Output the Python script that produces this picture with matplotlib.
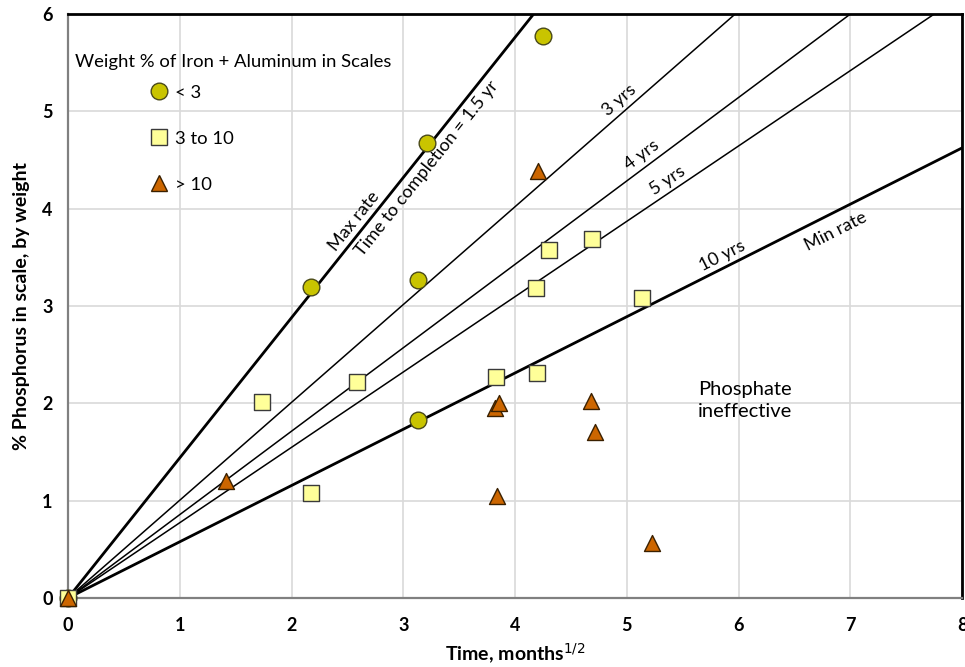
import numpy as np
import matplotlib
matplotlib.use("Agg")
import matplotlib.pyplot as plt
from matplotlib.lines import Line2D

plt.rcParams['font.family'] = ['Lato', 'DejaVu Sans']

# scale samples, x = sqrt(months), y = % P by weight
low_x = [0.0, 2.17, 3.13, 3.21, 4.25, 3.13]
low_y = [0.0, 3.20, 3.27, 4.67, 5.77, 1.83]

mid_x = [0.0, 1.74, 2.17, 2.59, 3.83, 4.20, 4.19, 4.30, 4.69, 5.14]
mid_y = [0.0, 2.01, 1.08, 2.22, 2.27, 2.31, 3.18, 3.58, 3.69, 3.08]

high_x = [0.0, 1.41, 3.82, 3.86, 3.84, 4.21, 4.68, 4.72, 5.23]
high_y = [0.0, 1.20, 1.95, 2.00, 1.05, 4.39, 2.02, 1.71, 0.57]

legend_labels = ['< 3', '3 to 10', '> 10']

# rate lines through the origin (slope in % per month^1/2)
line_names = ['max', '3 yrs', '4 yrs', '5 yrs', 'min']
line_slopes = [1.44, 1.005, 0.857, 0.774, 0.578]
line_widths = [2.0, 1.1, 1.1, 1.1, 2.0]

fig = plt.figure(figsize=(9.65, 6.67), dpi=100)
ax = fig.add_axes([0.0705, 0.1034, 0.9264, 0.8756])
ax.set_xlim(0, 8)
ax.set_ylim(0, 6)

xx = np.array([0, 8])
for slope, lw in zip(line_slopes, line_widths):
    ax.plot(xx, slope * xx, color='black', lw=lw, zorder=2)

ax.scatter(low_x, low_y, marker='o', s=12**2, c='#C9C400', edgecolors='#4a4a1a',
           linewidths=1, zorder=4, clip_on=False)
ax.scatter(mid_x, mid_y, marker='s', s=11**2, c='#FFFF99', edgecolors='#3a3a3a',
           linewidths=1, zorder=5, clip_on=False)
ax.scatter(high_x, high_y, marker='^', s=11.5**2, c='#CC6600', edgecolors='#3a2000',
           linewidths=1, zorder=6, clip_on=False)


# line labels, rotated along the lines and pushed off them a little
def line_label(text, slope, x, above=True, size=13, gap=2.5):
    p0 = ax.transData.transform((0, 0))
    p1 = ax.transData.transform((1, slope))
    ang = np.arctan2(p1[1] - p0[1], p1[0] - p0[0])
    sgn = 1 if above else -1
    off = (-np.sin(ang) * gap * sgn, np.cos(ang) * gap * sgn)
    ax.annotate(text, (x, slope * x), xytext=off, textcoords='offset points',
                rotation=np.degrees(ang), rotation_mode='anchor',
                ha='center', va='bottom' if above else 'top', fontsize=size)


line_label('Max rate', line_slopes[0], 2.64)
line_label('Time to completion = 1.5 yr', line_slopes[0], 3.12, above=False, gap=3.5)
line_label('3 yrs', line_slopes[1], 5.0)
line_label('4 yrs', line_slopes[2], 5.2)
line_label('5 yrs', line_slopes[3], 5.42)
line_label('10 yrs', line_slopes[4], 5.9)
line_label('Min rate', line_slopes[4], 6.8, above=False, gap=7)

ax.text(5.64, 2.03, 'Phosphate\nineffective', ha='left', va='center',
        fontsize=14.5, linespacing=1.35)

# legend
ax.text(0.008, 0.918, 'Weight % of Iron + Aluminum in Scales', transform=ax.transAxes,
        ha='left', va='center', fontsize=13.3)
handles = [
    Line2D([], [], ls='none', marker='o', ms=12, mfc='#C9C400', mec='#4a4a1a'),
    Line2D([], [], ls='none', marker='s', ms=11, mfc='#FFFF99', mec='#3a3a3a'),
    Line2D([], [], ls='none', marker='^', ms=11.5, mfc='#CC6600', mec='#3a2000'),
]
ax.legend(handles, legend_labels, loc='upper left', bbox_to_anchor=(0.092, 0.879),
          frameon=False, fontsize=13.3, handlelength=0.9, handletextpad=0.45,
          labelspacing=1.62, borderpad=0, borderaxespad=0)

ax.set_xticks(range(0, 9))
ax.set_yticks(range(0, 7))
ax.grid(True, color='#d9d9d9', lw=1.2)
ax.set_axisbelow(True)
ax.tick_params(length=0, labelsize=13)
ax.tick_params(axis='x', pad=14)
ax.tick_params(axis='y', pad=11)
for lab in ax.get_xticklabels() + ax.get_yticklabels():
    lab.set_fontweight('bold')

for side in ['top', 'right']:
    ax.spines[side].set_color('black')
    ax.spines[side].set_linewidth(2)
for side in ['left', 'bottom']:
    ax.spines[side].set_color('#808080')
    ax.spines[side].set_linewidth(1.6)

ax.set_xlabel('Time, months$^{1/2}$', fontsize=14, fontweight='bold', labelpad=5)
ax.set_ylabel('% Phosphorus in scale, by weight', fontsize=14, fontweight='bold',
              labelpad=9)

fig.savefig('out.png', dpi=100)
